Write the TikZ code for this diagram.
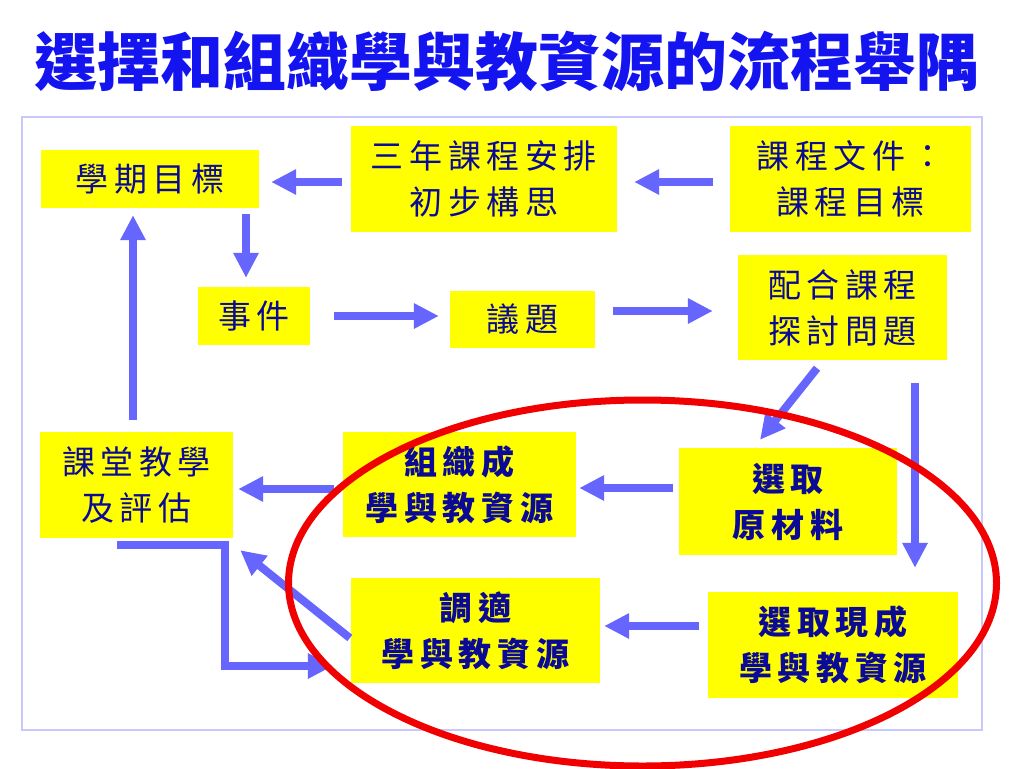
\documentclass[tikz,border=0pt]{standalone}
\usepackage{fontspec}
\newfontfamily\cjk[LetterSpace=17]{Noto Sans CJK TC}
\newfontfamily\cjktitle{Noto Sans CJK TC}
\usetikzlibrary{arrows.meta,calc}
\definecolor{boxyellow}{RGB}{255,255,0}
\definecolor{txtblue}{RGB}{10,10,150}
\definecolor{titleblue}{RGB}{20,20,240}
\definecolor{arrblue}{RGB}{102,102,255}
\definecolor{framecol}{RGB}{200,200,255}
\definecolor{ringred}{RGB}{240,0,0}
\tikzset{
  box/.style={fill=boxyellow, inner sep=0pt, align=center, text=txtblue,
    font=\cjk\fontsize{33}{46}\selectfont},
  boldbox/.style={box, font=\cjk\bfseries\fontsize{33}{46}\selectfont},
  arr/.style={draw=arrblue, line width=8pt, -{Triangle[width=24pt,length=25pt]}, line join=miter},
}
\begin{document}
\begin{tikzpicture}[x=1pt,y=-1pt]
\useasboundingbox[fill=white] (0,0) rectangle (1024,768);
\draw[framecol, line width=1.2pt] (22,117) rectangle (982,730);
\node[text=titleblue, font=\cjktitle\bfseries\fontsize{63}{70}\selectfont] (title) at (507,61) {選擇和組織學與教資源的流程舉隅};

\node[box, minimum width=218, minimum height=58] (n1) at (150,179) {學期目標};
\node[box, minimum width=266, minimum height=106] (n2) at (484,179) {三年課程安排\\初步構思};
\node[box, minimum width=241, minimum height=106] (n3) at (850.5,179) {課程文件：\\課程目標};
\node[box, minimum width=112, minimum height=58] (n4) at (254,316) {事件};
\node[box, minimum width=145, minimum height=57] (n5) at (522.5,319.5) {議題};
\node[box, minimum width=209, minimum height=105] (n6) at (842.5,307.5) {配合課程\\探討問題};
\node[box, minimum width=193, minimum height=106] (n7) at (136.5,485) {課堂教學\\及評估};
\node[boldbox, minimum width=233, minimum height=105] (n8) at (459.5,484.5) {組織成\\學與教資源};
\node[boldbox, minimum width=218, minimum height=107] (n9) at (788,501.5) {選取\\原材料};
\node[boldbox, minimum width=249, minimum height=105] (n10) at (475.5,630.5) {調適\\學與教資源};
\node[boldbox, minimum width=250, minimum height=106] (n11) at (833,645) {選取現成\\學與教資源};

\draw[arr] ($(n2.west)+(-9,3)$) -- ($(n1.east)+(12,3)$);
\draw[arr] ($(n3.west)+(-17,3)$) -- ($(n2.east)+(17,3)$);
\draw[arr] ($(n1.south)+(96,6)$) -- ($(n4.north)+(-8,-9)$);
\draw[arr] ($(n4.east)+(24,0)$) -- ($(n5.west)+(-11,-3.5)$);
\draw[arr] ($(n5.east)+(18,-8.5)$) -- ($(n6.west)+(-25,3.5)$);
\draw[arr] ($(n6.south)+(-25.5,8)$) -- ($(n9.north)+(-28,-8)$);
\draw[arr] ($(n6.south)+(72.5,23)$) -- ($(n11.north)+(82,-24)$);
\draw[arr] ($(n9.west)+(-6,-13.5)$) -- ($(n8.east)+(3,3.5)$);
\draw[arr] ($(n8.west)+(-9,4.5)$) -- ($(n7.east)+(5,4)$);
\draw[arr] ($(n11.west)+(-9,-19)$) -- ($(n10.east)+(4,-4.5)$);
\draw[arr] ($(n7.north)+(-3.5,-12)$) -- ($(n1.south)+(-17,7)$);
\draw[arr] ($(n10.west)+(-1,7.5)$) -- ($(n7.south east)+(7,12)$);
\draw[arr] ($(n7.south)+(-19.5,7)$) -- ++(108,0) |- ($(n10.west)+(-18,35.5)$);

\draw[ringred, line width=7pt] (642.5,583) ellipse [x radius=354, y radius=183];
\end{tikzpicture}
\end{document}
